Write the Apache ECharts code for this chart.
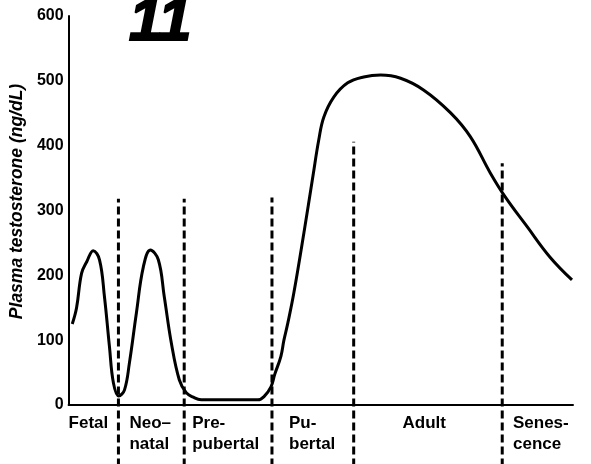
<!DOCTYPE html>
<html>
<head>
<meta charset="utf-8">
<script src="https://cdn.jsdelivr.net/npm/echarts@6/dist/echarts.min.js"></script>
<style>
  html, body { margin: 0; padding: 0; background: #fff; }
  #chart { width: 591px; height: 464px; }
</style>
</head>
<body>
<div id="chart"></div>
<script>
// Life-span position (arbitrary 0-100 scale) and plasma testosterone (ng/dL)
const lifeX = [0.73, 1.58, 2.57, 3.6, 4.88, 6.13, 7.11, 8.10, 8.89, 9.94, 11.07, 12.06, 13.44, 14.82, 16.21, 17.79, 18.97, 20.36, 21.94, 23.32, 24.70, 26.28, 37.55, 38.74, 40.12, 40.9, 42.09, 42.69, 43.48, 44.66, 46.64, 48.42, 49.60, 50.59, 52.57, 55.34, 58.50, 61.86, 65.81, 70.36, 75.69, 79.64, 83.60, 86.56, 90.91, 95.45, 99.80];
const testosterone = [125, 150, 203, 221, 238, 224, 167, 90, 34, 14, 23, 65, 142, 213, 239, 224, 167, 96, 39, 19, 12, 8, 8, 13, 28, 48, 75, 100, 127, 173, 265, 352, 409, 444, 475, 497, 506, 509, 504, 486, 451, 414, 358, 321, 275, 228, 193];

// Stage boundaries (dashed lines) and their top values
const boundaryX = [9.88, 22.92, 40.32, 56.52, 85.97];
const boundaryTop = [318, 318, 320, 406, 373];
const boundaryBottom = -95;

// Stage names and where their labels start
const stageNames = ['Fetal', 'Neo–\nnatal', 'Pre-\npubertal', 'Pu-\nbertal', 'Adult', 'Senes-\ncence'];
const stageLabelX = [0, 12.06, 24.5, 43.7, 66.2, 88.1];
const stageLabelY = -12;

const yTicks = [0, 100, 200, 300, 400, 500, 600];

const chart = echarts.init(document.getElementById('chart'), null, { renderer: 'canvas' });

const curve = lifeX.map((x, i) => [x, testosterone[i]]);
const dashedSeries = boundaryX.map((x, i) => ({
  type: 'line',
  data: [[x, boundaryBottom], [x, boundaryTop[i]]],
  symbol: 'none',
  clip: false,
  silent: true,
  lineStyle: { color: '#000', width: 3, type: [8, 4] },
  z: 2
}));

chart.setOption({
  animation: false,
  backgroundColor: '#fff',
  title: {
    text: '11',
    left: 124,
    top: -12,
    textStyle: {
      fontFamily: 'Liberation Sans',
      fontSize: 60,
      fontWeight: 900,
      fontStyle: 'italic',
      color: '#000',
      textBorderColor: '#000',
      textBorderWidth: 2
    }
  },
  grid: { left: 67, top: 16, width: 506, height: 389, containLabel: false },
  xAxis: {
    type: 'value',
    min: 0,
    max: 100,
    axisLine: { show: true, lineStyle: { color: '#000', width: 2 } },
    axisTick: { show: false },
    axisLabel: { show: false },
    splitLine: { show: false }
  },
  yAxis: {
    type: 'value',
    min: yTicks[0],
    max: yTicks[yTicks.length - 1],
    interval: 100,
    name: 'Plasma testosterone (ng/dL)',
    nameLocation: 'middle',
    nameGap: 37,
    nameTextStyle: {
      fontFamily: 'Liberation Sans',
      fontStyle: 'italic',
      fontWeight: 'bold',
      fontSize: 17.5,
      color: '#000',
      padding: [0, 0, 0, 18]
    },
    axisLine: { show: true, lineStyle: { color: '#000', width: 2 } },
    axisTick: { show: false },
    axisLabel: {
      margin: 5,
      fontFamily: 'Liberation Sans',
      fontWeight: 'bold',
      fontSize: 16,
      color: '#000'
    },
    splitLine: { show: false }
  },
  series: [
    {
      type: 'line',
      data: curve,
      symbol: 'none',
      smooth: 0.4,
      clip: false,
      lineStyle: { color: '#000', width: 3 },
      z: 3
    },
    ...dashedSeries,
    {
      type: 'scatter',
      data: stageLabelX.map((x, i) => ({ value: [x, stageLabelY], name: stageNames[i] })),
      symbolSize: 0,
      clip: false,
      silent: true,
      itemStyle: { opacity: 1, color: '#000' },
      label: {
        show: true,
        position: [0, 0],
        align: 'left',
        verticalAlign: 'top',
        formatter: p => p.name,
        fontFamily: 'Liberation Sans',
        fontWeight: 'bold',
        fontSize: 17,
        lineHeight: 21,
        color: '#000',
        opacity: 1,
        textBorderWidth: 0
      }
    }
  ]
});
</script>
</body>
</html>
